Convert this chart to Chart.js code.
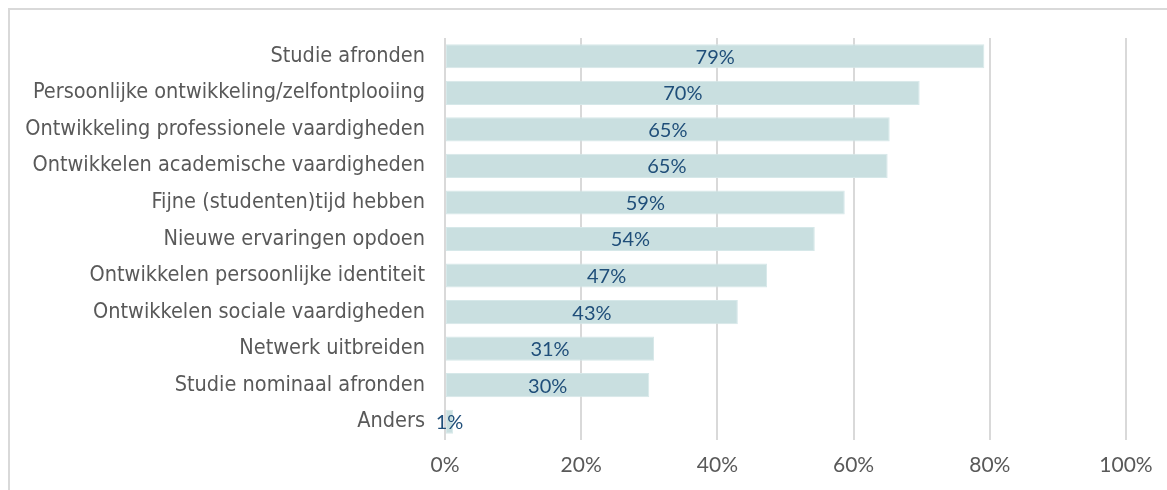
<!DOCTYPE html>
<html lang="nl">
<head>
  <meta charset="UTF-8">
  <title>Redenen studie</title>
  <script src="https://cdn.jsdelivr.net/npm/chart.js@4/dist/chart.umd.min.js"></script>
  <style>
    * { box-sizing: border-box; margin: 0; padding: 0; }
    html, body { width: 1167px; height: 490px; overflow: hidden; background: #fff; }
    .frame { position: absolute; left: 8px; top: 8px; width: 1300px; height: 600px;
             border: 2px solid #d9d9d9; }
    .wrap  { position: absolute; left: 0; top: 0; width: 1167px; height: 490px; }
  </style>
</head>
<body>
  <div class="frame"></div>
  <div class="wrap"><canvas id="chart" width="1167" height="490"></canvas></div>

  <script>
    // ── Data ─────────────────────────────────────────────────────────────────
    const categories = [
      'Studie afronden',
      'Persoonlijke ontwikkeling/zelfontplooiing',
      'Ontwikkeling professionele vaardigheden',
      'Ontwikkelen academische vaardigheden',
      'Fijne (studenten)tijd hebben',
      'Nieuwe ervaringen opdoen',
      'Ontwikkelen persoonlijke identiteit',
      'Ontwikkelen sociale vaardigheden',
      'Netwerk uitbreiden',
      'Studie nominaal afronden',
      'Anders',
    ];
    const shares = [79.2, 69.7, 65.3, 65.0, 58.7, 54.3, 47.3, 43.0, 30.7, 30.0, 1.2];
    const xTicks = [0, 20, 40, 60, 80, 100];

    // ── Value labels centred in each bar ─────────────────────────────────────
    const barLabels = {
      id: 'barLabels',
      afterDatasetsDraw(chart) {
        const ctx = chart.ctx;
        const meta = chart.getDatasetMeta(0);
        ctx.save();
        ctx.font = '20px Lato';
        ctx.fillStyle = '#1f4e79';
        ctx.textAlign = 'center';
        ctx.textBaseline = 'middle';
        meta.data.forEach((bar, i) => {
          const v = chart.data.datasets[0].data[i];
          ctx.fillText(Math.round(v) + '%', (bar.x + bar.base) / 2, bar.y + 1);
        });
        ctx.restore();
      },
    };

    new Chart(document.getElementById('chart'), {
      type: 'bar',
      data: {
        labels: categories,
        datasets: [{
          data: shares,
          backgroundColor: '#c9dfe0',
          borderColor: '#d6e8e9',
          borderWidth: 1,
          borderSkipped: false,
          barPercentage: 0.66,
          categoryPercentage: 1,
        }],
      },
      options: {
        indexAxis: 'y',
        responsive: false,
        animation: false,
        layout: { padding: { top: 38, right: 41, left: 0, bottom: 0 } },
        plugins: { legend: { display: false }, tooltip: { enabled: false } },
        scales: {
          x: {
            min: 0,
            max: 100,
            afterBuildTicks: (s) => { s.ticks = xTicks.map((v) => ({ value: v })); },
            afterFit: (s) => { s.height = 50; },
            border: { display: false },
            grid: { color: '#d9d9d9', lineWidth: 2, drawTicks: false },
            ticks: {
              color: '#595959',
              padding: 13,
              font: { family: 'Lato', size: 21 },
              callback: (v) => v + '%',
            },
          },
          y: {
            afterFit: (s) => { s.width = 445; },
            border: { display: false },
            grid: { display: false, drawTicks: false },
            ticks: {
              color: '#595959',
              padding: 20,
              font: { family: "'DejaVu Sans Condensed', 'DejaVu Sans'", size: 21.5 },
            },
          },
        },
      },
      plugins: [barLabels],
    });
  </script>
</body>
</html>
